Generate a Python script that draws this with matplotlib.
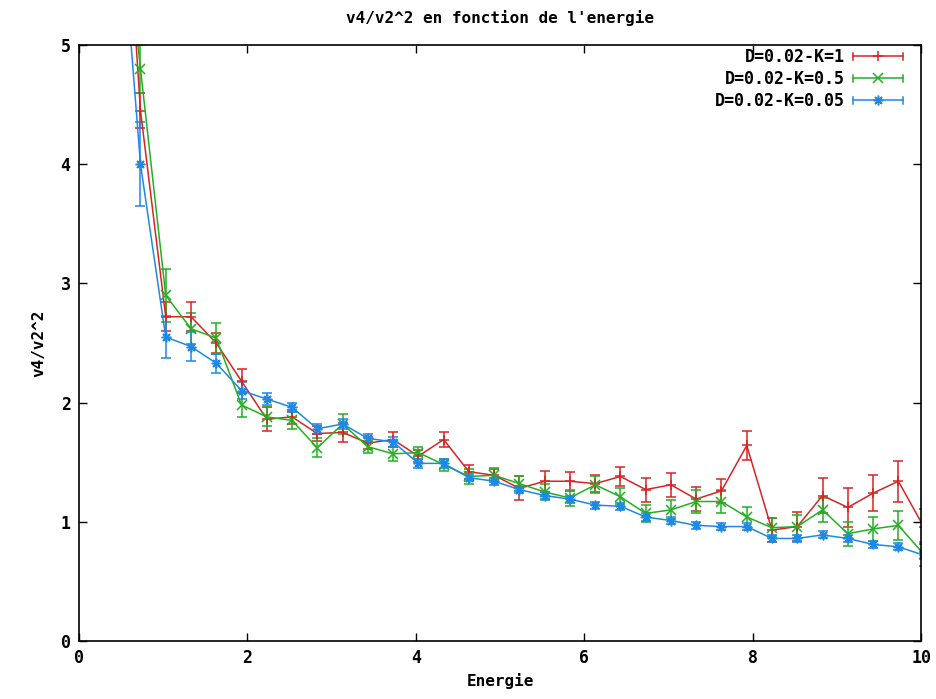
import numpy as np
import matplotlib
matplotlib.use('Agg')
from matplotlib import pyplot as plt
from matplotlib.lines import Line2D
from matplotlib.legend_handler import HandlerBase

# energie (same grid for the three runs)
energie = [0.43, 0.73, 1.03, 1.33, 1.63, 1.93, 2.23, 2.53, 2.83, 3.13, 3.43,
           3.73, 4.03, 4.33, 4.63, 4.93, 5.23, 5.53, 5.83, 6.13, 6.43, 6.73,
           7.03, 7.33, 7.63, 7.93, 8.23, 8.53, 8.83, 9.13, 9.43, 9.73, 10.03]

# D=0.02-K=1
k1 = [7.7, 4.45, 2.72, 2.72, 2.5, 2.18, 1.86, 1.88, 1.74, 1.75, 1.66,
      1.69, 1.55, 1.69, 1.42, 1.39, 1.28, 1.34, 1.34, 1.32, 1.38, 1.27,
      1.31, 1.19, 1.26, 1.64, 0.93, 0.96, 1.22, 1.12, 1.24, 1.34, 0.96]
k1_err = [0.3, 0.15, 0.12, 0.12, 0.08, 0.1, 0.1, 0.06, 0.06, 0.08, 0.05,
          0.06, 0.05, 0.06, 0.06, 0.05, 0.1, 0.09, 0.08, 0.07, 0.08, 0.1,
          0.1, 0.1, 0.1, 0.12, 0.1, 0.12, 0.15, 0.16, 0.15, 0.17, 0.15]

# D=0.02-K=0.5
k05 = [6.8, 4.8, 2.9, 2.62, 2.54, 1.98, 1.88, 1.85, 1.62, 1.82, 1.63,
       1.57, 1.58, 1.48, 1.38, 1.39, 1.32, 1.25, 1.2, 1.31, 1.21, 1.07,
       1.1, 1.17, 1.17, 1.04, 0.95, 0.96, 1.1, 0.9, 0.94, 0.97, 0.73]
k05_err = [0.3, 0.2, 0.22, 0.13, 0.13, 0.1, 0.08, 0.07, 0.08, 0.08, 0.05,
           0.06, 0.05, 0.05, 0.06, 0.06, 0.06, 0.07, 0.07, 0.07, 0.07, 0.07,
           0.08, 0.1, 0.1, 0.08, 0.08, 0.1, 0.1, 0.1, 0.1, 0.12, 0.1]

# D=0.02-K=0.05
k005 = [6.7, 4.0, 2.55, 2.47, 2.33, 2.1, 2.03, 1.96, 1.78, 1.82, 1.7,
        1.67, 1.49, 1.49, 1.37, 1.34, 1.27, 1.22, 1.19, 1.14, 1.13, 1.04,
        1.01, 0.97, 0.96, 0.96, 0.86, 0.86, 0.89, 0.86, 0.81, 0.79, 0.72]
k005_err = [0.4, 0.35, 0.18, 0.12, 0.08, 0.07, 0.05, 0.04, 0.04, 0.04, 0.04,
            0.04, 0.04, 0.04, 0.03, 0.03, 0.03, 0.03, 0.03, 0.03, 0.03, 0.03,
            0.03, 0.03, 0.03, 0.03, 0.03, 0.03, 0.03, 0.03, 0.03, 0.03, 0.03]

labels = ['D=0.02-K=1', 'D=0.02-K=0.5', 'D=0.02-K=0.05']
colors = ['#d82424', '#22b022', '#1e88e5']
markers = ['+', 'x', (8, 2, 0)]


# gnuplot style key sample: horizontal bar with end ticks and the point
class HandlerGnu(HandlerBase):
    def create_artists(self, legend, orig_handle, xdescent, ydescent,
                       width, height, fontsize, trans):
        c = orig_handle.get_color()
        y = height / 2 - ydescent
        x0 = -xdescent
        x1 = width - xdescent
        h = height * 0.3
        bar = Line2D([x0, x1], [y, y], color=c, lw=1.1, transform=trans)
        capl = Line2D([x0, x0], [y - h, y + h], color=c, lw=1.1, transform=trans)
        capr = Line2D([x1, x1], [y - h, y + h], color=c, lw=1.1, transform=trans)
        pt = Line2D([(x0 + x1) / 2], [y], color=c, marker=orig_handle.get_marker(),
                    markersize=7, markeredgewidth=1.1, linestyle='none',
                    transform=trans)
        return [bar, capl, capr, pt]


plt.rcParams['font.family'] = ['DejaVu Sans Mono']
plt.rcParams['font.weight'] = 'bold'

fig = plt.figure(figsize=(9.37, 6.99), dpi=100)
ax = fig.add_axes([0.0843, 0.083, 0.8987, 0.8527])

series = [(k1, k1_err), (k05, k05_err), (k005, k005_err)]
handles = []
for (vals, errs), lab, c, m in zip(series, labels, colors, markers):
    ax.errorbar(energie, vals, yerr=errs, color=c, marker=m, markersize=7,
                linewidth=1.1, elinewidth=1.1, capsize=3.5, capthick=1.1,
                markeredgewidth=1.1)
    handles.append(Line2D([], [], color=c, marker=m, label=lab))

ax.set_xlim(0, 10)
ax.set_ylim(0, 5)
ax.set_xticks([0, 2, 4, 6, 8, 10])
ax.set_yticks([0, 1, 2, 3, 4, 5])
ax.tick_params(direction='in', top=True, right=True, length=6, width=1,
               labelsize=12, pad=6)
for s in ax.spines.values():
    s.set_linewidth(1.2)

ax.set_title("v4/v2^2 en fonction de l'energie", fontsize=11.5,
             fontweight='bold', pad=16)
ax.set_xlabel('Energie', fontsize=11.5, fontweight='bold', labelpad=4)
ax.set_ylabel('v4/v2^2', fontsize=11.5, fontweight='bold', labelpad=10)

leg = ax.legend(handles=handles, loc='upper right', frameon=False,
                markerfirst=False, fontsize=12, handlelength=3.0,
                handletextpad=0.5, labelspacing=0.25, borderpad=0,
                borderaxespad=0, bbox_to_anchor=(0.9786, 0.995),
                handler_map={Line2D: HandlerGnu()})

fig.savefig('out.png', dpi=100)
